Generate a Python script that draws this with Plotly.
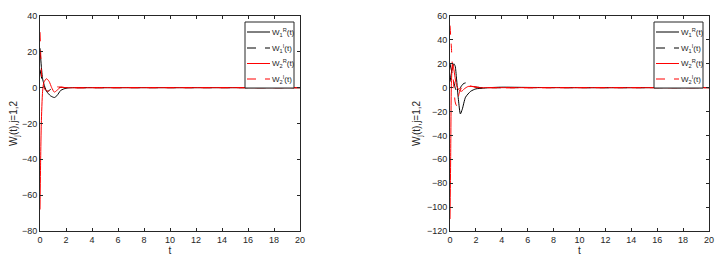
import plotly.graph_objects as go

# ---- data ----
# left panel
tA_1R = [0, 0.1, 0.2, 0.3, 0.5, 0.8, 1.1, 1.3, 1.6, 2.0, 2.5, 5, 10, 15, 20]
wA_1R = [22, 12, 5, 2, -2, -4.5, -5.5, -4.5, -1.5, -0.3, 0, 0, 0, 0, 0]
tA_1I = [0, 0.2, 0.4, 0.6, 0.9, 1.2, 1.5, 2.0, 5, 10, 15, 20]
wA_1I = [10, 3, -1, -2, -0.5, 0.5, 0.2, 0, 0, 0, 0, 0]
tA_2R = [0, 0.05, 0.1, 0.2, 0.3, 0.5, 0.7, 0.9, 1.1, 1.3, 1.6, 2.0, 5, 10, 15, 20]
wA_2R = [-68, -40, -20, -2, 3, 5, 3.5, 0, -2.5, -1.5, 0.3, 0, 0, 0, 0, 0]
tA_2I = [0, 0.05, 0.1, 0.2, 0.4, 0.6, 0.9, 1.2, 1.5, 2.0, 5, 10, 15, 20]
wA_2I = [31, 20, 10, 2, -1, -2, -1, 0.5, 0.3, 0, 0, 0, 0, 0]

# right panel
tB_1R = [0, 0.15, 0.3, 0.4, 0.5, 0.65, 0.8, 0.95, 1.2, 1.6, 2.0, 2.5, 3, 4, 6, 10, 15, 20]
wB_1R = [5, 15, 20, 18, 8, -10, -22, -18, -8, -3, -1, -0.5, 0, 0.4, 0.2, 0, 0, 0]
tB_1I = [0, 0.2, 0.4, 0.6, 0.8, 1.0, 1.2, 1.5, 2.0, 2.5, 5, 10, 15, 20]
wB_1I = [20, 10, 0, -5, 0, 3, 4, 2, 0.5, 0, 0, 0, 0, 0]
tB_2R = [0, 0.05, 0.1, 0.15, 0.2, 0.3, 0.5, 0.7, 0.9, 1.1, 1.4, 1.7, 2.2, 3, 10, 15, 20]
wB_2R = [-110, -60, 0, 15, 20, 15, 2, -2, -3, -1, 1, 1, 0, 0, 0, 0, 0]
tB_2I = [0, 0.1, 0.2, 0.3, 0.4, 0.5, 0.7, 0.9, 1.2, 1.5, 2.0, 3, 10, 15, 20]
wB_2I = [52, 35, 15, 0, -12, -15, -5, 0, 1, 1.5, 0.5, 0, 0, 0, 0]

names = ["W<sub>1</sub><sup>R</sup>(t)", "W<sub>1</sub><sup>I</sup>(t)",
         "W<sub>2</sub><sup>R</sup>(t)", "W<sub>2</sub><sup>I</sup>(t)"]
colors = ["black", "black", "red", "red"]
dashes = ["solid", "dash", "solid", "dash"]

xticks = [0, 2, 4, 6, 8, 10, 12, 14, 16, 18, 20]
yticksA = [40, 20, 0, -20, -40, -60, -80]
yticksB = [60, 40, 20, 0, -20, -40, -60, -80, -100, -120]

fig = go.Figure()

seriesA = [(tA_1R, wA_1R), (tA_1I, wA_1I), (tA_2R, wA_2R), (tA_2I, wA_2I)]
seriesB = [(tB_1R, wB_1R), (tB_1I, wB_1I), (tB_2R, wB_2R), (tB_2I, wB_2I)]

for i, (t, w) in enumerate(seriesA):
    fig.add_trace(go.Scatter(x=t, y=w, mode="lines", name=names[i], showlegend=False,
                             line=dict(color=colors[i], dash=dashes[i], width=1, shape="spline", smoothing=0.6),
                             xaxis="x", yaxis="y"))
for i, (t, w) in enumerate(seriesB):
    fig.add_trace(go.Scatter(x=t, y=w, mode="lines", name=names[i], showlegend=False,
                             line=dict(color=colors[i], dash=dashes[i], width=1, shape="spline", smoothing=0.6),
                             xaxis="x2", yaxis="y2"))

# page body offsets the figure by 8px; layout is expressed in reference pixels minus 8
OFF = 8
W, H = 728 - OFF, 264 - OFF
ML, MT = 40 - OFF, 16 - OFF
MR = W - (709 - OFF)
MB = H - (231 - OFF)
PW = W - ML - MR
PH = H - MT - MB

def px(x):
    return (x - OFF - ML) / PW

def py(y):
    return 1 - (y - OFF - MT) / PH

fnt = "Liberation Sans, Arial"
tickfont = dict(family=fnt, size=9, color="#262626")
titlefont = dict(family=fnt, size=10, color="#262626")
axcommon = dict(showline=True, linecolor="#262626", linewidth=1, mirror="ticks",
                ticks="inside", ticklen=3, tickcolor="#262626", showgrid=False,
                zeroline=False, tickfont=tickfont, automargin=False)

shapes = []
annotations = []
# hand-drawn legends (box + line samples + labels), one per panel
for right_edge in (294, 703):
    left_edge = right_edge - 49
    shapes.append(dict(type="rect", xref="paper", yref="paper",
                       x0=px(left_edge), x1=px(right_edge), y0=py(88), y1=py(22),
                       line=dict(color="#262626", width=1), fillcolor="white", layer="above"))
    for k, yy in enumerate((32, 48, 63.5, 79)):
        shapes.append(dict(type="line", xref="paper", yref="paper",
                           x0=px(left_edge + 2), x1=px(left_edge + 25), y0=py(yy), y1=py(yy),
                           line=dict(color=colors[k], dash=dashes[k], width=1), layer="above"))
        annotations.append(dict(xref="paper", yref="paper", x=px(left_edge + 25), y=py(yy),
                                xanchor="left", yanchor="middle", showarrow=False,
                                text=names[k], font=dict(family=fnt, size=8, color="#262626")))

fig.update_layout(
    width=W, height=H,
    margin=dict(l=ML, r=MR, t=MT, b=MB, autoexpand=False),
    plot_bgcolor="white", paper_bgcolor="white",
    showlegend=False,
    xaxis=dict(domain=[0, 260 / PW], range=[0, 20], tickvals=xticks, anchor="y",
               title=dict(text="t", font=titlefont, standoff=2), **axcommon),
    yaxis=dict(domain=[0, 1], range=[-80, 40], tickvals=yticksA, anchor="x",
               title=dict(text="W<sub>j</sub>(t),j=1,2", font=titlefont, standoff=4), **axcommon),
    xaxis2=dict(domain=[410 / PW, 1], range=[0, 20], tickvals=xticks, anchor="y2",
                title=dict(text="t", font=titlefont, standoff=2), **axcommon),
    yaxis2=dict(domain=[0, 1], range=[-120, 60], tickvals=yticksB, anchor="x2",
                title=dict(text="W<sub>j</sub>(t),j=1,2", font=titlefont, standoff=4), **axcommon),
    shapes=shapes,
    annotations=annotations,
)

fig.write_html("out.html")
